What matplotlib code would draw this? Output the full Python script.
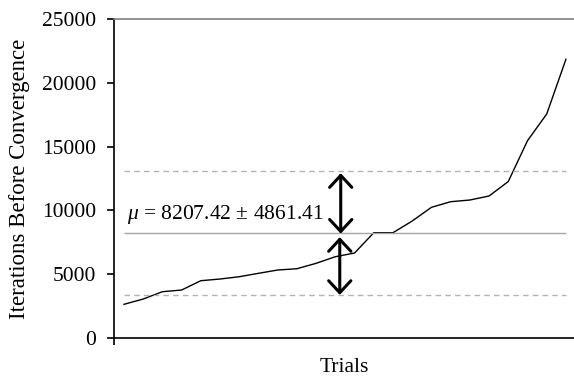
"""
Iterations before convergence per trial, sorted, with mean +/- std band
"""
import numpy as np
import matplotlib
matplotlib.use("Agg")
import matplotlib.pyplot as plt

plt.rcParams['font.family'] = ['Liberation Serif', 'DejaVu Serif']
plt.rcParams['mathtext.fontset'] = 'custom'
plt.rcParams['mathtext.rm'] = 'Liberation Serif'
plt.rcParams['mathtext.it'] = 'Liberation Serif:italic'

# sorted iteration counts per trial
iterations = [2641, 3056, 3629, 3762, 4491, 4624, 4804, 5070, 5329, 5431,
              5854, 6372, 6661, 8252, 8252, 9169, 10243, 10682, 10815, 11129,
              12265, 15463, 17555, 21842]
mean_val = 8207.42
std_val = 4861.41
y_ticks = [0, 5000, 10000, 15000, 20000, 25000]

trials = np.arange(len(iterations))
n_last = len(iterations) - 1

fig = plt.figure(figsize=(5.74, 3.77), dpi=100)
ax = fig.add_axes([0.1986, 0.1034, 0.8014, 0.8462])

ax.plot(trials, iterations, color='black', lw=1.0)

# mean and +/- one std
ax.hlines(mean_val, 0, n_last, color='#a6a6a6', lw=1.0)
ax.hlines([mean_val + std_val, mean_val - std_val], 0, n_last,
          color='#b3b3b3', lw=1.0, linestyles=(0, (4, 3)))

arrow_style = '<->,head_length=0.43,head_width=0.4'
arrow_x = 11.28
ax.annotate('', xy=(arrow_x, mean_val + std_val - 150), xytext=(arrow_x, mean_val - 30),
            arrowprops=dict(arrowstyle=arrow_style, color='black', lw=2.2,
                            shrinkA=0, shrinkB=0, mutation_scale=20))
ax.annotate('', xy=(arrow_x - 0.05, mean_val - std_val + 30),
            xytext=(arrow_x - 0.05, mean_val - 300),
            arrowprops=dict(arrowstyle=arrow_style, color='black', lw=2.2,
                            shrinkA=0, shrinkB=0, mutation_scale=20))

ax.text(0.15, mean_val + 1150, r'$\mu$ = 8207.42 ± 4861.41',
        fontsize=15.5, ha='left', va='baseline')

ax.set_xlim(-0.52, n_last + 0.42)
ax.set_ylim(0, 25000)
ax.set_yticks(y_ticks)
ax.set_xticks([-0.52])
ax.set_xticklabels([])
ax.tick_params(axis='y', direction='out', length=5, width=1.2, labelsize=15.5, pad=8)
ax.tick_params(axis='x', direction='out', length=5, width=1.2)

ax.spines['right'].set_visible(False)
ax.spines['top'].set_color('#808080')
ax.spines['top'].set_linewidth(1.2)
ax.spines['left'].set_linewidth(1.2)
ax.spines['bottom'].set_linewidth(1.2)

ax.set_ylabel('Iterations Before Convergence', fontsize=16.5, va='center')
ax.yaxis.set_label_coords(-0.2065, 0.5)
ax.set_xlabel('Trials', fontsize=15.5, va='baseline')
ax.xaxis.set_label_coords(0.5, -0.1075)

fig.savefig('out.png', dpi=100)
